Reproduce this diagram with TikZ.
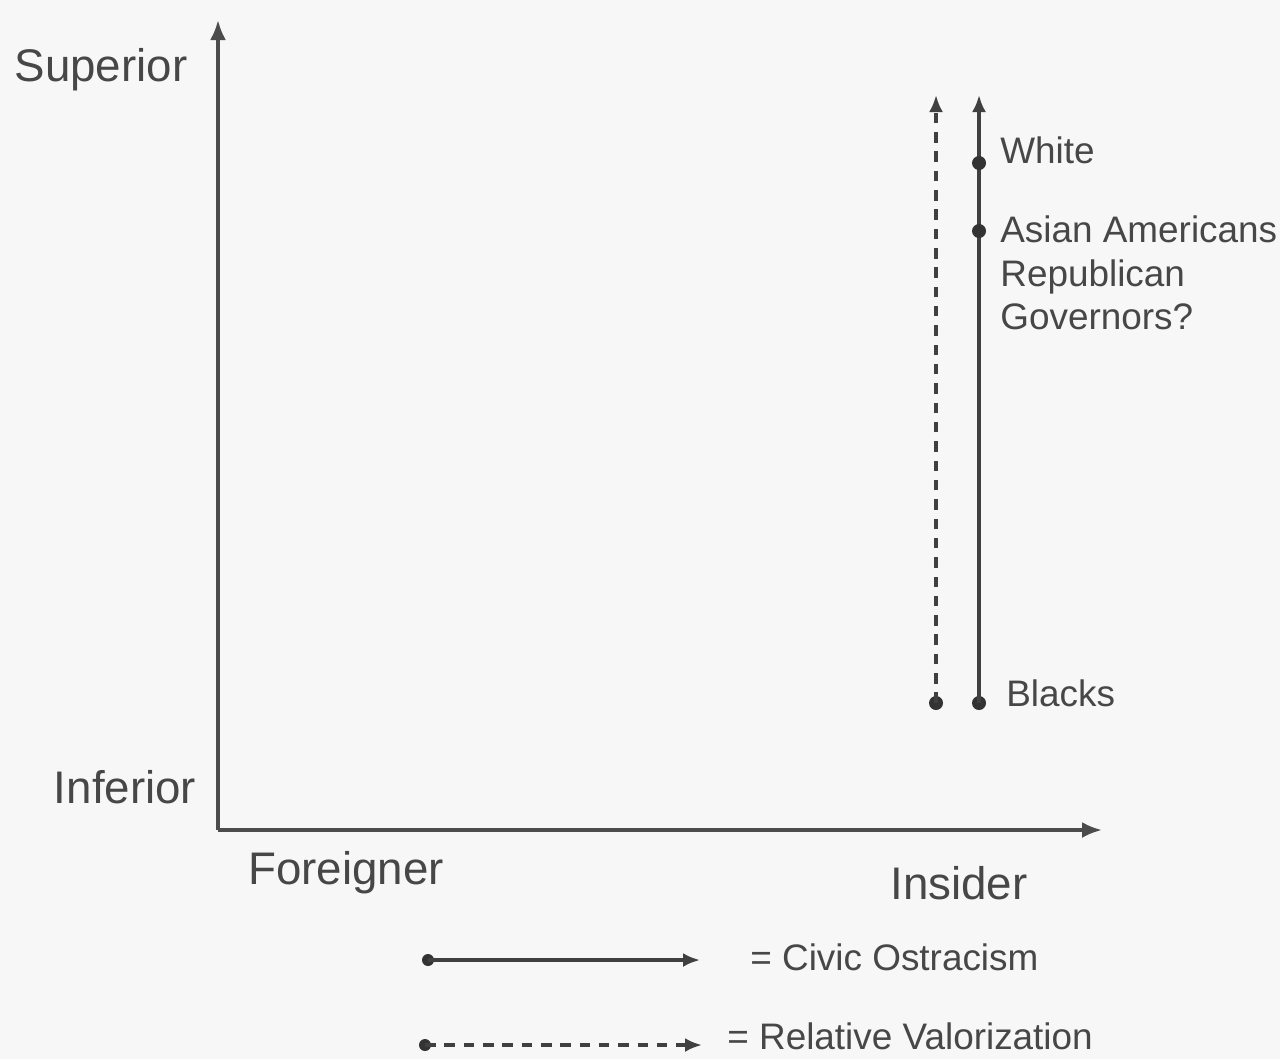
\documentclass[tikz,border=0pt]{standalone}
\usepackage{fontspec}
\setmainfont{Liberation Sans}
\usetikzlibrary{arrows.meta, positioning}

\begin{document}
\begin{tikzpicture}[
		x=0.02cm, y=-0.02cm,
		every node/.style={text=black!72},
		axislabel/.style={font=\fontsize{26}{30}\selectfont},
		grouplabel/.style={font=\fontsize{21}{25}\selectfont, inner sep=0pt, anchor=west, align=left},
		dot/.style={circle, fill=black!80, inner sep=0pt, minimum size=0.28cm},
		axis/.style={line width=2pt, draw=black!70, -{Latex[length=4mm,width=3.2mm]}},
		civic/.style={line width=2pt, draw=black!75, -{Latex[length=3.4mm,width=2.8mm]}},
		valor/.style={civic, dash pattern=on 6pt off 5pt}
		]
		
		% Fondo
		\fill[black!3] (0,0) rectangle (1280,1059);
		\useasboundingbox (0,0) rectangle (1280,1059);
		
		% Ejes
		\coordinate (origin) at (218,830);
		\coordinate (ytip) at (218,20);
		\coordinate (xtip) at (1102,830);
		\draw[axis] (origin) -- (ytip);
		\draw[axis] (origin) -- (xtip);
		
		% Etiquetas de ejes
		\node[axislabel] (superior) at (101,70) {Superior};
		\node[axislabel] (inferior) at (125,787) {Inferior};
		\node[axislabel] (foreigner) at (346,873) {Foreigner};
		\node[axislabel] (insider) at (959,883) {Insider};
		
		% Flechas verticales
		\node[dot] (valorstart) at (936,703) {};
		\node[dot] (blacks) at (979,703) {};
		\coordinate (valortip) at (936,95);
		\coordinate (civictip) at (979,95);
		\draw[valor] (valorstart.center) -- (valortip);
		\draw[civic] (blacks.center) -- (civictip);
		\node[dot] (white) at (979,163) {};
		\node[dot] (asian) at (979,231) {};
		
		% Grupos
		\node[grouplabel] (whitelabel) at (1000,150) {White};
		\node[grouplabel, anchor=north west] (asianlabel) at (1000,215) {Asian Americans\\Republican\\Governors?};
		\node[grouplabel] (blackslabel) at (1006,693) {Blacks};
		
		% Leyenda
		\node[dot, minimum size=0.24cm] (civicstart) at (428,960) {};
		\coordinate (civicend) at (700,960);
		\draw[civic] (civicstart.center) -- (civicend);
		\node[grouplabel] (civickey) at (750,957) {= Civic Ostracism};
		\node[dot, minimum size=0.24cm] (valorkeystart) at (425,1045) {};
		\coordinate (valorkeyend) at (702,1045);
		\draw[valor] (valorkeystart.center) -- (valorkeyend);
		\node[grouplabel] (valorkey) at (727,1036) {= Relative Valorization};
	\end{tikzpicture}
\end{document}
